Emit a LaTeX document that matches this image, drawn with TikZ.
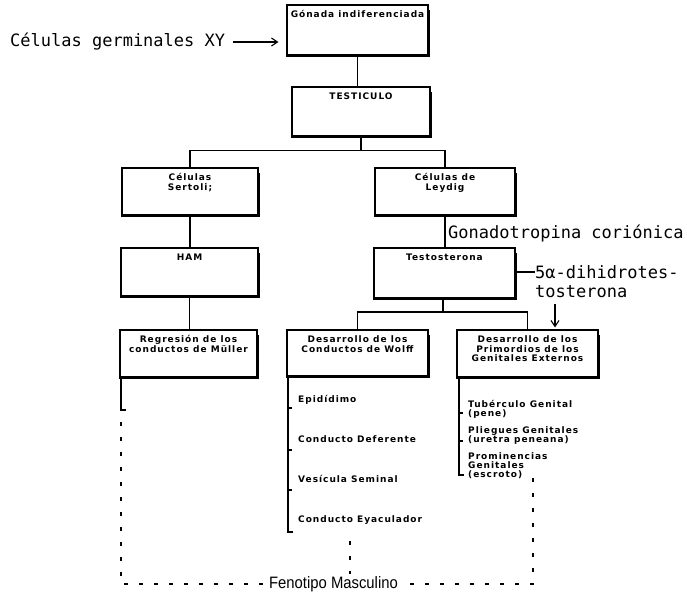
\documentclass[tikz,border=0pt]{standalone}
\usepackage{fontspec}
\setmainfont{DejaVu Sans}
\newfontfamily\monofnt{DejaVu Sans Mono}
\newfontfamily\fenfnt[FakeStretch=0.9]{Liberation Sans}
\newfontfamily\boxfnt[LetterSpace=11]{DejaVu Sans Bold}
\usetikzlibrary{arrows.meta,calc}
% box content: width, height, text (set at the top of the box)
\newcommand{\boxtxt}[3]{\parbox[c][#2pt][t]{#1pt}{\centering\vspace*{5.5pt}#3\par}}
\begin{document}
\begin{tikzpicture}[x=1pt,y=-1pt,
  gbox/.style={draw, line width=1.1pt, inner sep=0pt,
    font=\boxfnt\fontsize{9}{9.8}\selectfont},
  heavy/.style={line width=3pt, line join=miter},
  item/.style={anchor=west, inner sep=0pt, align=left,
    font=\boxfnt\fontsize{9}{9}\selectfont},
  mono/.style={inner sep=0pt, font=\monofnt\fontsize{17}{20}\selectfont},
  link/.style={line width=1.1pt},
  dashv/.style={line width=1.4pt, dash pattern=on 4pt off 11pt},
  arr/.style={line width=1.1pt, -{Straight Barb[length=6pt,width=8pt]}}]
\useasboundingbox (0,0) rectangle (687,600);

% boxes
\node[gbox] (gon) at (357.5,30)  {\boxtxt{141}{50}{Gónada indiferenciada}};
\node[gbox] (tes) at (361,111.5) {\boxtxt{138}{49}{TESTICULO}};
\node[gbox] (ser) at (190,191.5) {\boxtxt{136}{47}{Células\\Sertoli;}};
\node[gbox] (ley) at (445,191.5) {\boxtxt{140}{47}{Células de\\Leydig}};
\node[gbox] (ham) at (189.5,272) {\boxtxt{137}{48}{HAM}};
\node[gbox] (tst) at (444.5,273) {\boxtxt{141}{50}{Testosterona}};
\node[gbox] (mul) at (188.5,353.5) {\boxtxt{137}{47}{Regresión de los\\conductos de Müller}};
\node[gbox] (wol) at (357.5,353)   {\boxtxt{141}{46}{Desarrollo de los\\Conductos de Wolff}};
\node[gbox] (gen) at (527.5,353.5) {\boxtxt{141}{47}{Desarrollo de los\\Primordios de los\\Genitales Externos}};

% heavy bottom and right edges
\foreach \n in {gon,tes,ser,ley,ham,tst,mul,wol,gen}
  \draw[heavy] (\n.south west) -- (\n.south east) -- ([yshift=-6pt]\n.north east);

% side labels
\node[mono, anchor=west] (xy) at (10,42) {Células germinales XY};
\draw[arr, shorten <=8pt, shorten >=8pt] (xy.east) -- (xy.east -| gon.west);

\node[mono, anchor=west] (gc) at (448,233) {Gonadotropina coriónica};
\node[mono, anchor=west] (d5a) at (535,272) {5α-dihidrotes-};
\node[mono, anchor=west] (d5b) at (535,292) {tosterona};
\draw[link] (tst.east |- d5a.west) -- (d5a.west);
\coordinate (a5) at (555,304);
\draw[arr] (a5) -- ([yshift=2pt]a5 |- gen.north);

% tree connectors
\draw[link] (gon.south) -- (gon.south |- tes.north);
\coordinate (j1) at ($(tes.south)+(0,14)$);
\draw[link] (tes.south) -- (j1);
\draw[link] (ser.north) |- (j1) -| (ley.north);
\draw[link] (ser.south) -- (ser.south |- ham.north);
\draw[link] (ham.south) -- (ham.south |- mul.north);
\draw[link] (ley.south) -- (ley.south |- tst.north);
\coordinate (j2) at (443,312);
\draw[link] (tst.south -| j2) -- (j2);
\draw[link] (wol.north) |- (j2) -| (gen.north);

% lists
\node[item] (ep) at (298,400) {Epidídimo};
\node[item] (cd) at (298,439) {Conducto Deferente};
\node[item] (vs) at (298,479) {Vesícula Seminal};
\node[item] (ce) at (298,520) {Conducto Eyaculador};
\coordinate (wb) at (288,532);
\draw[link] (wol.south west -| wb) -- (wb) -- ++(5,0);
\foreach \y in {408,450,490} \draw[link] (288,\y) -- ++(4,0);

\node[item] (tg) at (468,409) {Tubérculo Genital\\(pene)};
\node[item] (pg) at (468,436) {Pliegues Genitales\\(uretra peneana)};
\node[item] (pr) at (468,466) {Prominencias\\Genitales\\(escroto)};
\coordinate (gb) at (459,475);
\draw[link] (gen.south west -| gb) -- (gb) -- ++(5,0);
\foreach \y in {413,441} \draw[link] (459,\y) -- ++(4,0);

\coordinate (mb) at (121,410);
\draw[link] (mul.south west -| mb) -- (mb) -- ++(5,0);

% outcome
\node[inner sep=2pt, font=\fenfnt\fontsize{16.5}{18}\selectfont] (fen) at (333.5,584) {Fenotipo Masculino};
\coordinate (m1) at (121,422);
\draw[dashv] (m1) |- ([xshift=-4pt]fen.west);
\coordinate (g1) at (533,478);
\draw[dashv] (g1) |- ([xshift=4pt]fen.east);
\coordinate (w1) at (350,541);
\draw[dashv] (w1) -- (w1 |- fen.north);
\end{tikzpicture}
\end{document}
